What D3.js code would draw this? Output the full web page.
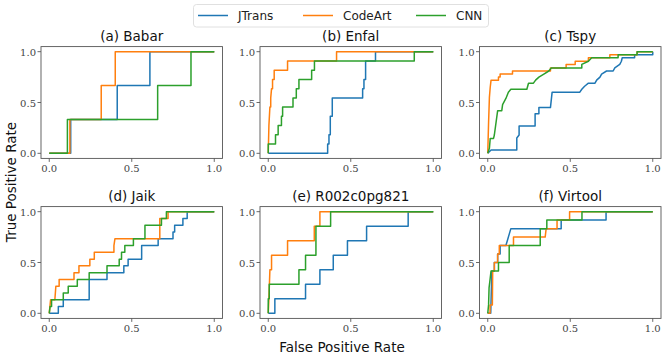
<!DOCTYPE html>
<html>
<head>
<meta charset="utf-8">
<script src="https://cdn.jsdelivr.net/npm/d3@7"></script>
<style>
  body { margin: 0; background: #fff; }
  .title { font-family: "DejaVu Sans", sans-serif; font-size: 13.5px; fill: #111; }
  .axis-label { font-family: "DejaVu Sans", sans-serif; font-size: 13.5px; fill: #111; }
  .legend-text { font-family: "DejaVu Sans", sans-serif; font-size: 12px; fill: #222; }
</style>
</head>
<body>
<div id="chart"></div>
<script>
const methods = ["JTrans", "CodeArt", "CNN"];
const colors = ["#1f77b4", "#ff7f0e", "#2ca02c"];
const titles = ["(a) Babar", "(b) Enfal", "(c) Tspy", "(d) Jaik", "(e) R002c0pg821", "(f) Virtool"];
const tickValues = [0, 0.5, 1];
const tickLabels = ["0.0", "0.5", "1.0"];

// ROC points [fpr, tpr]
const babarJTrans = [[0,0],[0.13,0],[0.13,0.333],[0.412,0.333],[0.412,0.667],[0.61,0.667],[0.61,1],[1,1]];
const babarCodeArt = [[0,0],[0.125,0],[0.125,0.333],[0.315,0.333],[0.315,0.667],[0.40,0.667],[0.40,1],[1,1]];
const babarCNN = [[0,0],[0.11,0],[0.11,0.333],[0.657,0.333],[0.657,0.667],[0.859,0.667],[0.859,1],[1,1]];

const enfalJTrans = [[0,0],[0.36,0],[0.36,0.091],[0.368,0.091],[0.368,0.182],[0.376,0.182],[0.376,0.364],[0.388,0.364],[0.388,0.545],[0.572,0.545],[0.572,0.636],[0.58,0.636],[0.58,0.727],[0.59,0.727],[0.59,0.909],[0.65,0.909],[0.65,1],[1,1]];
const enfalCodeArt = [[0,0],[0.004,0.273],[0.01,0.455],[0.015,0.455],[0.015,0.545],[0.02,0.636],[0.026,0.636],[0.026,0.727],[0.036,0.727],[0.036,0.818],[0.117,0.818],[0.117,0.909],[0.414,0.909],[0.414,1],[1,1]];
const enfalCNN = [[0,0],[0,0.091],[0.044,0.091],[0.044,0.182],[0.06,0.182],[0.06,0.273],[0.08,0.273],[0.08,0.364],[0.087,0.364],[0.087,0.455],[0.15,0.455],[0.15,0.545],[0.17,0.545],[0.17,0.636],[0.186,0.636],[0.186,0.727],[0.263,0.727],[0.263,0.818],[0.28,0.818],[0.28,0.909],[0.885,0.909],[0.885,1],[1,1]];

const tspyJTrans = [[0,0],[0.02,0.033],[0.176,0.033],[0.176,0.15],[0.19,0.18],[0.19,0.27],[0.287,0.27],[0.287,0.39],[0.31,0.39],[0.31,0.45],[0.38,0.45],[0.39,0.6],[0.557,0.6],[0.57,0.63],[0.587,0.66],[0.61,0.69],[0.65,0.69],[0.66,0.72],[0.68,0.75],[0.69,0.78],[0.72,0.81],[0.76,0.81],[0.77,0.84],[0.80,0.875],[0.81,0.906],[0.815,0.94],[0.89,0.94],[0.89,0.97],[1,0.97],[1,1]];
const tspyCodeArt = [[0,0],[0.005,0.3],[0.01,0.55],[0.015,0.65],[0.02,0.72],[0.065,0.72],[0.065,0.75],[0.075,0.75],[0.075,0.78],[0.15,0.78],[0.15,0.81],[0.38,0.81],[0.38,0.84],[0.475,0.84],[0.475,0.875],[0.53,0.875],[0.53,0.906],[0.61,0.906],[0.61,0.94],[0.74,0.94],[0.74,0.97],[0.905,0.97],[0.905,1],[1,1]];
const tspyCNN = [[0,0],[0.01,0.05],[0.015,0.147],[0.035,0.147],[0.04,0.18],[0.06,0.42],[0.085,0.42],[0.09,0.48],[0.11,0.54],[0.125,0.6],[0.14,0.63],[0.237,0.63],[0.247,0.69],[0.277,0.69],[0.29,0.72],[0.31,0.75],[0.34,0.78],[0.37,0.81],[0.385,0.84],[0.57,0.84],[0.57,0.875],[0.61,0.906],[0.63,0.94],[0.79,0.94],[0.79,0.97],[0.905,0.97],[0.905,1],[1,1]];

const jaikJTrans = [[0,0],[0.055,0],[0.055,0.067],[0.085,0.067],[0.085,0.133],[0.242,0.133],[0.242,0.333],[0.35,0.333],[0.35,0.4],[0.452,0.4],[0.452,0.467],[0.478,0.467],[0.478,0.533],[0.56,0.533],[0.56,0.667],[0.66,0.667],[0.66,0.733],[0.75,0.733],[0.75,0.8],[0.76,0.8],[0.76,0.867],[0.81,0.867],[0.81,0.933],[0.836,0.933],[0.836,1],[1,1]];
const jaikCodeArt = [[0,0],[0.008,0.133],[0.034,0.133],[0.04,0.267],[0.06,0.267],[0.06,0.333],[0.15,0.333],[0.15,0.4],[0.18,0.4],[0.18,0.467],[0.246,0.467],[0.246,0.533],[0.273,0.533],[0.273,0.6],[0.392,0.6],[0.392,0.667],[0.398,0.733],[0.67,0.733],[0.67,0.933],[0.72,0.933],[0.72,1],[1,1]];
const jaikCNN = [[0,0],[0.005,0.067],[0.014,0.067],[0.014,0.133],[0.085,0.133],[0.085,0.2],[0.115,0.2],[0.115,0.267],[0.17,0.267],[0.17,0.333],[0.242,0.333],[0.242,0.4],[0.35,0.4],[0.35,0.467],[0.424,0.467],[0.424,0.533],[0.438,0.533],[0.438,0.6],[0.458,0.6],[0.458,0.667],[0.51,0.667],[0.51,0.733],[0.58,0.733],[0.58,0.867],[0.68,0.867],[0.68,0.933],[0.71,0.933],[0.71,1],[1,1]];

const r002JTrans = [[0,0],[0.04,0],[0.04,0.143],[0.226,0.143],[0.226,0.286],[0.313,0.286],[0.313,0.429],[0.394,0.429],[0.394,0.571],[0.48,0.571],[0.48,0.714],[0.596,0.714],[0.596,0.857],[0.848,0.857],[0.848,1],[1,1]];
const r002CodeArt = [[0,0],[0.004,0.143],[0.01,0.429],[0.02,0.429],[0.02,0.571],[0.117,0.571],[0.117,0.714],[0.279,0.714],[0.279,0.857],[0.313,0.857],[0.313,1],[1,1]];
const r002CNN = [[0,0],[0,0.143],[0.006,0.143],[0.006,0.286],[0.186,0.286],[0.186,0.429],[0.226,0.429],[0.226,0.571],[0.289,0.571],[0.289,0.857],[0.378,0.857],[0.378,1],[1,1]];

const virtoolJTrans = [[0,0],[0.018,0],[0.025,0.417],[0.04,0.417],[0.04,0.5],[0.06,0.5],[0.06,0.583],[0.075,0.583],[0.075,0.667],[0.11,0.667],[0.14,0.833],[0.445,0.833],[0.445,0.917],[0.717,0.917],[0.717,1],[1,1]];
const virtoolCodeArt = [[0,0],[0.014,0],[0.014,0.083],[0.028,0.083],[0.03,0.417],[0.04,0.417],[0.04,0.5],[0.06,0.5],[0.06,0.583],[0.07,0.583],[0.07,0.667],[0.156,0.667],[0.156,0.75],[0.348,0.75],[0.354,0.833],[0.42,0.833],[0.42,0.917],[0.496,0.917],[0.496,1],[1,1]];
const virtoolCNN = [[0,0],[0.005,0.083],[0.008,0.25],[0.014,0.333],[0.02,0.417],[0.065,0.417],[0.065,0.5],[0.13,0.5],[0.13,0.667],[0.318,0.667],[0.318,0.833],[0.358,0.833],[0.358,0.917],[0.571,0.917],[0.571,1],[1,1]];

const panelSeries = [
  [babarJTrans, babarCodeArt, babarCNN],
  [enfalJTrans, enfalCodeArt, enfalCNN],
  [tspyJTrans, tspyCodeArt, tspyCNN],
  [jaikJTrans, jaikCodeArt, jaikCNN],
  [r002JTrans, r002CodeArt, r002CNN],
  [virtoolJTrans, virtoolCodeArt, virtoolCNN]
];

const width = 665, height = 359;
const colLefts = [41, 260, 479.5];
const rowTops = [46.6, 206.6];
const panelW = 181.5, panelH = 111.8;
const tickFont = "'DejaVu Serif', 'Liberation Serif', serif";

const svg = d3.select("#chart").append("svg")
  .attr("width", width)
  .attr("height", height);

panelSeries.forEach((series, i) => {
  const left = colLefts[i % 3];
  const top = rowTops[Math.floor(i / 3)];
  const x = d3.scaleLinear().domain([-0.05, 1.05]).range([left, left + panelW]);
  const y = d3.scaleLinear().domain([-0.05, 1.05]).range([top + panelH, top]);

  const g = svg.append("g");

  // ticks
  tickValues.forEach((t, k) => {
    g.append("line")
      .attr("x1", x(t)).attr("x2", x(t))
      .attr("y1", top + panelH).attr("y2", top + panelH + 3.5)
      .attr("stroke", "#444").attr("stroke-width", 0.8);
    g.append("text")
      .attr("font-family", tickFont).attr("font-size", 10).attr("fill", "#444")
      .attr("x", x(t)).attr("y", top + panelH + 14)
      .attr("text-anchor", "middle")
      .text(tickLabels[k]);
    g.append("line")
      .attr("x1", left - 3.5).attr("x2", left)
      .attr("y1", y(t)).attr("y2", y(t))
      .attr("stroke", "#444").attr("stroke-width", 0.8);
    g.append("text")
      .attr("font-family", tickFont).attr("font-size", 10).attr("fill", "#444")
      .attr("x", left - 5).attr("y", y(t) + 4)
      .attr("text-anchor", "end")
      .text(tickLabels[k]);
  });

  const line = d3.line().x(d => x(d[0])).y(d => y(d[1]));
  series.forEach((s, j) => {
    g.append("path")
      .attr("d", line(s))
      .attr("fill", "none")
      .attr("stroke", colors[j])
      .attr("stroke-width", 1.5)
      .attr("stroke-linejoin", "round");
  });

  g.append("rect")
    .attr("x", left).attr("y", top)
    .attr("width", panelW).attr("height", panelH)
    .attr("fill", "none")
    .attr("stroke", "#555")
    .attr("stroke-width", 0.9);

  g.append("text").attr("class", "title")
    .attr("x", left + panelW / 2).attr("y", top - 5.5)
    .attr("text-anchor", "middle")
    .text(titles[i]);
});

// axis labels
svg.append("text").attr("class", "axis-label")
  .attr("x", 342).attr("y", 352)
  .attr("text-anchor", "middle")
  .text("False Positive Rate");
svg.append("text").attr("class", "axis-label")
  .attr("transform", "translate(16,182) rotate(-90)")
  .attr("text-anchor", "middle")
  .text("True Positive Rate");

// legend
const legend = svg.append("g");
legend.append("rect")
  .attr("x", 193.5).attr("y", 4.5)
  .attr("width", 295).attr("height", 22.5)
  .attr("rx", 3)
  .attr("fill", "#fff")
  .attr("stroke", "#d8d8d8")
  .attr("stroke-width", 0.8);
const legendX = [198, 303, 416];
methods.forEach((m, j) => {
  legend.append("line")
    .attr("x1", legendX[j]).attr("x2", legendX[j] + 30)
    .attr("y1", 15.5).attr("y2", 15.5)
    .attr("stroke", colors[j]).attr("stroke-width", 1.5);
  legend.append("text").attr("class", "legend-text")
    .attr("x", legendX[j] + 40).attr("y", 20)
    .text(m);
});
</script>
</body>
</html>
